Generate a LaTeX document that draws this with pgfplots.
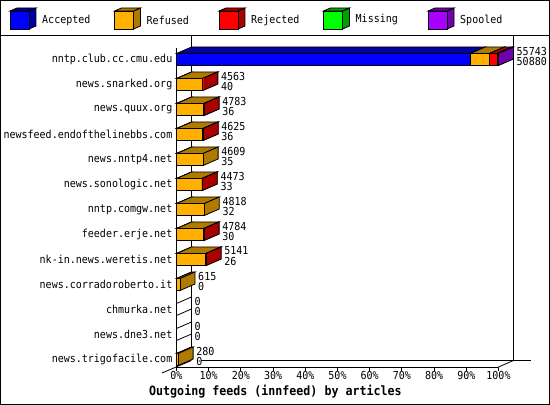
\documentclass[border=0pt]{standalone}
\usepackage{pgfplots}
\pgfplotsset{compat=1.18}
\usepackage{pgfplotstable}
\usepackage{fontspec}
\setmainfont{DejaVu Sans Mono}[FakeStretch=0.91]

\definecolor{accF}{RGB}{0,0,255}
\definecolor{accD}{RGB}{0,0,160}
\definecolor{refF}{RGB}{255,176,0}
\definecolor{refD}{RGB}{176,122,0}
\definecolor{rejF}{RGB}{255,0,0}
\definecolor{rejD}{RGB}{170,0,0}
\definecolor{misF}{RGB}{0,255,0}
\definecolor{misD}{RGB}{0,160,0}
\definecolor{spoF}{RGB}{170,0,255}
\definecolor{spoD}{RGB}{112,0,170}

% articles per feed; off = offered (acc+ref+rej+mis+spo)
\pgfplotstableread{
row acc   ref  rej  mis spo off
0   50880 3300 1340 0   223 55743
1   40    4463 60   0   0   4563
2   36    4687 60   0   0   4783
3   36    4529 60   0   0   4625
4   35    4574 0    0   0   4609
5   33    4380 60   0   0   4473
6   32    4786 0    0   0   4818
7   30    4694 60   0   0   4784
8   26    5055 60   0   0   5141
9   0     615  0    0   0   615
10  0     0    0    0   0   0
11  0     0    0    0   0   0
12  0     280  0    0   0   280
}\feeds

% pt per article: 322pt span for 55743 articles
\pgfmathfloatparsenumber{0.00577651}\let\ptper\pgfmathresult

% 3d box drawn leftwards from the stacked end point, 1pt = 1px
\newcommand\emptybox{%
  \pgfpathmoveto{\pgfpoint{0pt}{6pt}}\pgfpathlineto{\pgfpoint{15pt}{12.5pt}}%
  \pgfpathmoveto{\pgfpoint{0pt}{-6pt}}\pgfpathlineto{\pgfpoint{15pt}{0.5pt}}%
  \pgfusepath{stroke}}
\newcommand\barbox[3]{%
  \pgfmathfloatmultiply{\pgfplotspointmeta}{\ptper}%
  \pgfmathfloattofixed{\pgfmathresult}\let\L\pgfmathresult
  \pgfmathsetmacro\Lb{15-\L}%
  \pgfsetlinewidth{0.8pt}\pgfsetstrokecolor{black}%
  \ifdim\L pt>0.05pt
    \pgfsetfillcolor{#2}%
    \pgfpathmoveto{\pgfpoint{-\L pt}{6pt}}%
    \pgfpathlineto{\pgfpoint{0pt}{6pt}}%
    \pgfpathlineto{\pgfpoint{15pt}{12.5pt}}%
    \pgfpathlineto{\pgfpoint{\Lb pt}{12.5pt}}%
    \pgfpathclose\pgfusepath{fill,stroke}%
    \pgfpathmoveto{\pgfpoint{0pt}{-6pt}}%
    \pgfpathlineto{\pgfpoint{0pt}{6pt}}%
    \pgfpathlineto{\pgfpoint{15pt}{12.5pt}}%
    \pgfpathlineto{\pgfpoint{15pt}{0.5pt}}%
    \pgfpathclose\pgfusepath{fill,stroke}%
    \pgfsetfillcolor{#1}%
    \pgfpathrectanglecorners{\pgfpoint{-\L pt}{-6pt}}{\pgfpoint{0pt}{6pt}}%
    \pgfusepath{fill,stroke}%
  \else #3\fi}
\pgfdeclareplotmark{bacc}{\barbox{accF}{accD}{\emptybox}}
\pgfdeclareplotmark{bref}{\barbox{refF}{refD}{}}
\pgfdeclareplotmark{brej}{\barbox{rejF}{rejD}{}}
\pgfdeclareplotmark{bmis}{\barbox{misF}{misD}{}}
\pgfdeclareplotmark{bspo}{\barbox{spoF}{spoD}{}}

\pgfplotsset{seg/.style={only marks, scatter, mark=#1,
    scatter/@pre marker code/.code={}, scatter/@post marker code/.code={}}}

\begin{document}
\begin{tikzpicture}
% frame, legend and back walls, in pixel coordinates
\begin{scope}[x=1pt,y=-1pt,shift={(-176.5pt,367pt)}]
  \draw[line width=1pt] (0.5,0.5) rectangle (549.5,404.5);
  \draw[line width=0.8pt] (0,35.5) -- (550,35.5);
  \foreach \c/\d/\t [count=\i from 0] in
      {accF/accD/Accepted,refF/refD/Refused,rejF/rejD/Rejected,misF/misD/Missing,spoF/spoD/Spooled} {
    \pgfmathsetmacro\xo{10+104.5*\i}
    \filldraw[fill=\d,line width=0.8pt] (\xo+19,11) -- (\xo+26,8) -- (\xo+26,26) -- (\xo+19,29) -- cycle;
    \filldraw[fill=\d,line width=0.8pt] (\xo,11) -- (\xo+7,8) -- (\xo+26,8) -- (\xo+19,11) -- cycle;
    \filldraw[fill=\c,line width=0.8pt] (\xo,11) rectangle (\xo+19,29);
    \node[anchor=west,inner sep=0pt,font=\fontsize{11}{12}\selectfont] at (\xo+32,20) {\t};
  }
  \draw[line width=0.8pt] (191.5,36) -- (191.5,360.5);
  \draw[line width=0.8pt] (513.5,36) -- (513.5,360.5);
  \draw[line width=0.8pt] (201,360.5) -- (531,360.5);
  \draw[line width=0.8pt] (498.5,367) -- (513.5,360.5);
  \draw[line width=0.8pt] (162,373) -- (191.5,360.5);
\end{scope}

\begin{axis}[
    at={(0,0)}, anchor=south west,
    x=3.22pt, y=25pt,
    xmin=0, xmax=100, ymin=-12.3, ymax=0.46,
    axis x line*=bottom, axis y line*=left,
    axis line style={-, line width=0.8pt},
    xtick={0,10,...,100},
    xticklabels={0\%,10\%,20\%,30\%,40\%,50\%,60\%,70\%,80\%,90\%,100\%},
    ytick={-12,...,0},
    yticklabels={news.trigofacile.com,news.dne3.net,chmurka.net,news.corradoroberto.it,
        nk-in.news.weretis.net,feeder.erje.net,nntp.comgw.net,news.sonologic.net,
        news.nntp4.net,newsfeed.endofthelinebbs.com,news.quux.org,news.snarked.org,
        nntp.club.cc.cmu.edu},
    ytick style={draw=none},
    xtick style={line width=0.8pt, black},
    tick align=outside, major tick length=4pt,
    ticklabel style={font=\fontsize{11}{12}\selectfont},
    yticklabel style={inner sep=0pt},
    xticklabel style={inner sep=0pt},
    point meta min=0, point meta max=60000,
    stack plots=x, reverse stacked plots=false,
    clip=false,
  ]
  \addplot[seg=bacc, point meta=\thisrow{acc}]
    table[x expr=\thisrow{acc}/557.43, y expr=-\thisrow{row}] {\feeds};
  \addplot[seg=bref, point meta=\thisrow{ref}]
    table[x expr=\thisrow{ref}/557.43, y expr=-\thisrow{row}] {\feeds};
  \addplot[seg=brej, point meta=\thisrow{rej}]
    table[x expr=\thisrow{rej}/557.43, y expr=-\thisrow{row}] {\feeds};
  \addplot[seg=bmis, point meta=\thisrow{mis}]
    table[x expr=\thisrow{mis}/557.43, y expr=-\thisrow{row}] {\feeds};
  \addplot[seg=bspo, point meta=\thisrow{spo}]
    table[x expr=\thisrow{spo}/557.43, y expr=-\thisrow{row}] {\feeds};
  % offered / accepted counts beside each bar
  \addplot[draw=none, point meta=explicit symbolic, nodes near coords,
      every node near coord/.append style={anchor=west, inner sep=0pt,
        font=\fontsize{11}{10}\selectfont, xshift=18pt, yshift=8.5pt}]
    table[x expr=0, y expr=-\thisrow{row}, meta=off] {\feeds};
  \addplot[draw=none, point meta=explicit symbolic, nodes near coords,
      every node near coord/.append style={anchor=west, inner sep=0pt,
        font=\fontsize{11}{10}\selectfont, xshift=18pt, yshift=-1.5pt}]
    table[x expr=0, y expr=-\thisrow{row}, meta=acc] {\feeds};
\end{axis}

\begin{scope}[x=1pt,y=-1pt,shift={(-176.5pt,367pt)}]
  \node[anchor=west,inner sep=0pt,font=\fontsize{12.8}{14}\selectfont\bfseries]
    at (149,391.5) {Outgoing feeds (innfeed) by articles};
  \pgfresetboundingbox
  \path[use as bounding box] (0,0) rectangle (550,405);
\end{scope}
\end{tikzpicture}
\end{document}
